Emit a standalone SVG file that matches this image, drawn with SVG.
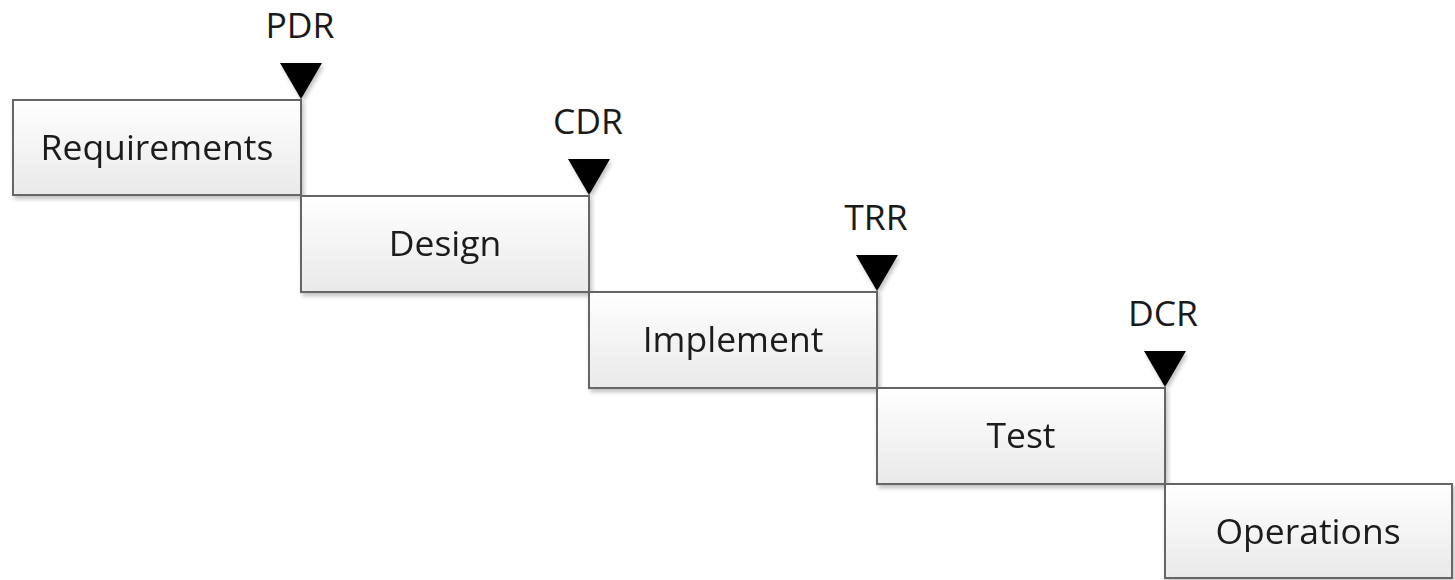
<svg xmlns="http://www.w3.org/2000/svg" width="1455" height="580" viewBox="0 0 1455 580">
  <defs>
    <linearGradient id="boxFill" x1="0" y1="0" x2="0" y2="1">
      <stop offset="0" stop-color="#ffffff"/>
      <stop offset="1" stop-color="#e9e9e9"/>
    </linearGradient>
    <filter id="shadow" x="-10%" y="-10%" width="120%" height="130%">
      <feGaussianBlur in="SourceAlpha" stdDeviation="2"/>
      <feOffset dx="2" dy="3" result="blur"/>
      <feComponentTransfer><feFuncA type="linear" slope="0.25"/></feComponentTransfer>
      <feMerge><feMergeNode/><feMergeNode in="SourceGraphic"/></feMerge>
    </filter>
  </defs>
  <style>
    .box { fill: url(#boxFill); stroke: #666666; stroke-width: 2; }
    .label { font-family: "Open Sans", "Liberation Sans", sans-serif; font-size: 35.5px; fill: #1a1a1a; text-anchor: middle; }
    .gate { fill: #000000; }
  </style>

  <g id="phases" filter="url(#shadow)">
    <g id="requirements">
      <rect class="box" x="13" y="100" width="288" height="95"/>
      <text class="label" x="157" y="160">Requirements</text>
    </g>
    <g id="design">
      <rect class="box" x="301" y="196" width="288" height="96"/>
      <text class="label" x="445" y="256">Design</text>
    </g>
    <g id="implement">
      <rect class="box" x="589" y="292" width="288" height="96"/>
      <text class="label" x="733" y="352">Implement</text>
    </g>
    <g id="test">
      <rect class="box" x="877" y="388" width="288" height="96"/>
      <text class="label" x="1021" y="448">Test</text>
    </g>
    <g id="operations">
      <rect class="box" x="1165" y="484" width="287" height="94"/>
      <text class="label" x="1308" y="544">Operations</text>
    </g>
  </g>

  <g id="milestones">
    <g id="pdr">
      <polygon class="gate" points="280,63 322,63 301,99" filter="url(#shadow)"/>
      <text class="label" x="300" y="38">PDR</text>
    </g>
    <g id="cdr">
      <polygon class="gate" points="568,159 610,159 589,195" filter="url(#shadow)"/>
      <text class="label" x="588" y="134">CDR</text>
    </g>
    <g id="trr">
      <polygon class="gate" points="856,255 898,255 877,291" filter="url(#shadow)"/>
      <text class="label" x="876" y="230">TRR</text>
    </g>
    <g id="dcr">
      <polygon class="gate" points="1144,351 1186,351 1165,387" filter="url(#shadow)"/>
      <text class="label" x="1163" y="326">DCR</text>
    </g>
  </g>
</svg>
